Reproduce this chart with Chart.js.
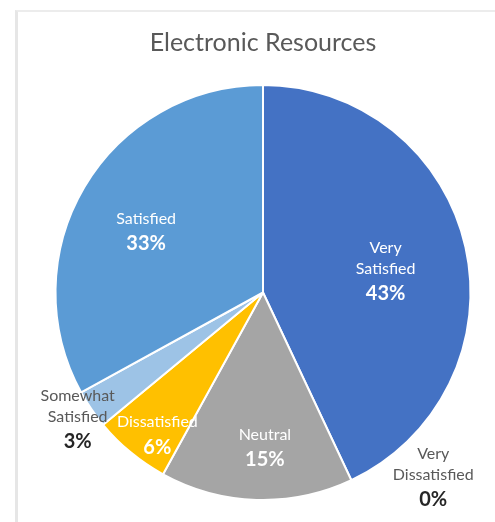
<!DOCTYPE html>
<html>
<head>
<meta charset="utf-8">
<script src="https://cdn.jsdelivr.net/npm/chart.js@4.4.1/dist/chart.umd.min.js"></script>
<style>
  html, body { margin: 0; padding: 0; background: #ffffff; }
  #wrap { position: relative; width: 495px; height: 522px; overflow: hidden; }
  #frame {
    position: absolute; left: 15px; top: 10px; width: 520px; height: 560px;
    border-left: 3px solid #e6e6e6; border-top: 2px solid #ececec;
  }
  #c { position: absolute; left: 0; top: 0; }
</style>
</head>
<body>
<div id="wrap">
  <div id="frame"></div>
  <canvas id="c" width="495" height="522"></canvas>
</div>
<script>
// Survey responses, in slice order clockwise from 12 o'clock
const categories = ['Very Satisfied', 'Very Dissatisfied', 'Neutral', 'Dissatisfied', 'Somewhat Satisfied', 'Satisfied'];
const percentages = [43, 0, 15, 6, 3, 33];
const sliceColors = ['#4472C4', '#ED7D31', '#A5A5A5', '#FFC000', '#9DC3E6', '#5B9BD5'];

// Label lines per slice (category names wrap as shown)
const labelLines = [['Very', 'Satisfied'], ['Very', 'Dissatisfied'], ['Neutral'], ['Dissatisfied'], ['Somewhat', 'Satisfied'], ['Satisfied']];
// Label placement: fraction of radius, angular shift (deg), text colours
const labelLayout = [
  { f: 0.60, shift: 2.6, name: '#ffffff', pct: '#ffffff' },
  { f: 1.21, shift: -17.5, name: '#595959', pct: '#262626' },
  { f: 0.745, shift: -2.5, name: '#ffffff', pct: '#ffffff' },
  { f: 0.854, shift: -3.0, name: '#ffffff', pct: '#ffffff' },
  { f: 1.08, shift: 0, name: '#595959', pct: '#262626' },
  { f: 0.636, shift: -2.9, name: '#ffffff', pct: '#ffffff' }
];

const FONT = 'Lato, "Open Sans", sans-serif';

const sliceLabels = {
  id: 'sliceLabels',
  afterDatasetsDraw(chart) {
    const ctx = chart.ctx;
    const meta = chart.getDatasetMeta(0);
    meta.data.forEach((arc, i) => {
      const p = arc.getProps(['x', 'y', 'startAngle', 'endAngle', 'outerRadius'], true);
      const lay = labelLayout[i];
      const a = (p.startAngle + p.endAngle) / 2 + lay.shift * Math.PI / 180;
      const cx = p.x + Math.cos(a) * p.outerRadius * lay.f;
      const cy = p.y + Math.sin(a) * p.outerRadius * lay.f;
      const names = labelLines[i];
      const nameGap = 21, pctGap = 25;
      const blockH = (names.length - 1) * nameGap + pctGap;
      let y = cy - blockH / 2;
      ctx.save();
      ctx.textAlign = 'center';
      ctx.textBaseline = 'middle';
      ctx.font = '16px ' + FONT;
      ctx.fillStyle = lay.name;
      names.forEach((t, k) => {
        ctx.fillText(t, cx, y + k * nameGap);
      });
      ctx.font = 'bold 20px ' + FONT;
      ctx.fillStyle = lay.pct;
      ctx.fillText(percentages[i] + '%', cx, y + (names.length - 1) * nameGap + pctGap);
      ctx.restore();
    });
  }
};

new Chart(document.getElementById('c'), {
  type: 'pie',
  data: {
    labels: categories,
    datasets: [{
      data: percentages,
      backgroundColor: sliceColors,
      borderColor: '#ffffff',
      borderWidth: 2
    }]
  },
  options: {
    responsive: false,
    animation: false,
    layout: { padding: { left: 54, right: 23, top: 0, bottom: 21 } },
    plugins: {
      legend: { display: false },
      tooltip: { enabled: false },
      title: {
        display: true,
        text: 'Electronic Resources',
        color: '#595959',
        font: { family: FONT, size: 25, weight: 'normal' },
        padding: { top: 28, bottom: 26 }
      }
    }
  },
  plugins: [sliceLabels]
});
</script>
</body>
</html>
